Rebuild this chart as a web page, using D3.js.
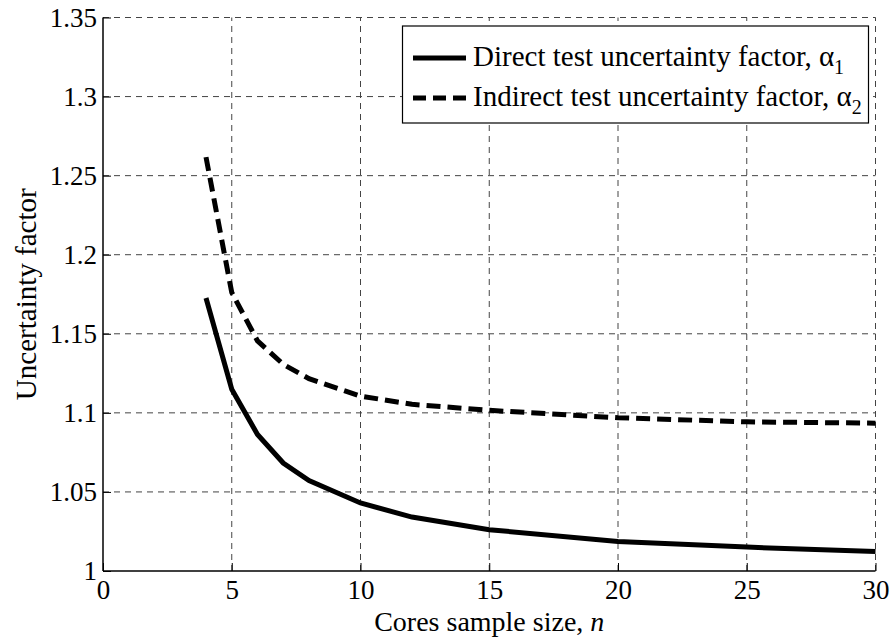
<!DOCTYPE html>
<html>
<head>
<meta charset="utf-8">
<script src="https://cdn.jsdelivr.net/npm/d3@7.9.0/dist/d3.min.js"></script>
<style>
  body { margin: 0; background: #fff; }
  svg { display: block; }
  svg text { font-family: "Times New Roman", "Liberation Serif", Tinos, serif; }
</style>
</head>
<body>
<svg id="chart" width="893" height="638"></svg>
<script>
// sample sizes and read-off factors
const sizes = [4, 5, 6, 7, 8, 10, 12, 15, 20, 25, 30];
const direct = [1.1726, 1.1149, 1.0863, 1.0683, 1.0572, 1.0430, 1.0341, 1.0261, 1.0187, 1.0151, 1.0123];
const indirect = [1.2617, 1.1761, 1.1455, 1.1307, 1.1216, 1.1106, 1.1054, 1.1016, 1.0969, 1.0943, 1.0935];
const xTicks = [0, 5, 10, 15, 20, 25, 30];
const yTicks = [1, 1.05, 1.1, 1.15, 1.2, 1.25, 1.3, 1.35];
const seriesNames = ['Direct test uncertainty factor, \u03b1', 'Indirect test uncertainty factor, \u03b1'];
const subs = ['1', '2'];

const svg = d3.select('#chart');
const plotL = 103, plotR = 875.5, plotT = 17.5, plotB = 571;
const serif = '"Times New Roman", "Liberation Serif", Tinos, serif';

let x = d3.scaleLinear().domain([0, 30]).range([plotL, plotR]);
let y = d3.scaleLinear().domain([1, 1.35]).range([plotB, plotT]);

// grid
const grid = svg.append('g')
  .attr('stroke', '#444')
  .attr('stroke-width', 1)
  .attr('stroke-dasharray', '6,5');
xTicks.filter(d => d > 0).forEach(d => {
  grid.append('line')
    .attr('x1', x(d)).attr('x2', x(d))
    .attr('y1', plotB).attr('y2', plotT);
});
yTicks.filter(d => d > 1).forEach(d => {
  grid.append('line')
    .attr('x1', plotL).attr('x2', plotR)
    .attr('y1', y(d)).attr('y2', y(d));
});

// axes (inward ticks, box off)
let xAxis = d3.axisBottom(x).tickValues(xTicks).tickSize(-8).tickPadding(9).tickFormat(d3.format('d'));
let yAxis = d3.axisLeft(y).tickValues(yTicks).tickSize(-8).tickPadding(6).tickFormat(d => String(+d.toFixed(2)));

const gx = svg.append('g').attr('transform', `translate(0,${plotB})`).call(xAxis);
const gy = svg.append('g').attr('transform', `translate(${plotL},0)`).call(yAxis);
[gx, gy].forEach(g => {
  g.attr('font-family', serif).attr('font-size', 27);
  g.select('.domain').attr('stroke', '#000').attr('stroke-width', 1.5);
  g.selectAll('.tick line').attr('stroke', '#000').attr('stroke-width', 1);
  g.selectAll('.tick text').attr('fill', '#000');
});
gx.select('.domain').attr('d', `M${plotL},0H${plotR}`);
gy.select('.domain').attr('d', `M0,${plotB}V${plotT}`);

// curves
let line = d3.line().x((d, i) => x(sizes[i])).y(d => y(d));
svg.append('path')
  .datum(direct)
  .attr('d', line)
  .attr('fill', 'none')
  .attr('stroke', '#000')
  .attr('stroke-width', 5);
svg.append('path')
  .datum(indirect)
  .attr('d', line)
  .attr('fill', 'none')
  .attr('stroke', '#000')
  .attr('stroke-width', 5)
  .attr('stroke-dasharray', '14,7');

// axis titles
svg.append('text')
  .attr('x', (plotL + plotR) / 2)
  .attr('y', 631)
  .attr('text-anchor', 'middle')
  .attr('font-size', 28)
  .html('Cores sample size, <tspan font-style="italic">n</tspan>');
svg.append('text')
  .attr('transform', `translate(36,${(plotT + plotB) / 2}) rotate(-90)`)
  .attr('text-anchor', 'middle')
  .attr('font-size', 29)
  .text('Uncertainty factor');

// legend
const legend = svg.append('g');
legend.append('rect')
  .attr('x', 402.5).attr('y', 26)
  .attr('width', 466).attr('height', 97)
  .attr('fill', '#fff')
  .attr('stroke', '#000')
  .attr('stroke-width', 1.2);
seriesNames.forEach((name, i) => {
  const cy = 58 + i * 40;
  legend.append('line')
    .attr('x1', 413).attr('x2', 466)
    .attr('y1', cy).attr('y2', cy)
    .attr('stroke', '#000')
    .attr('stroke-width', 5)
    .attr('stroke-dasharray', i === 1 ? '13,7' : null);
  const t = legend.append('text')
    .attr('x', 473).attr('y', cy + 8)
    .attr('font-size', 29);
  t.append('tspan').text(name);
  t.append('tspan').attr('dy', 8).attr('font-size', 20).text(subs[i]);
});
</script>
</body>
</html>
